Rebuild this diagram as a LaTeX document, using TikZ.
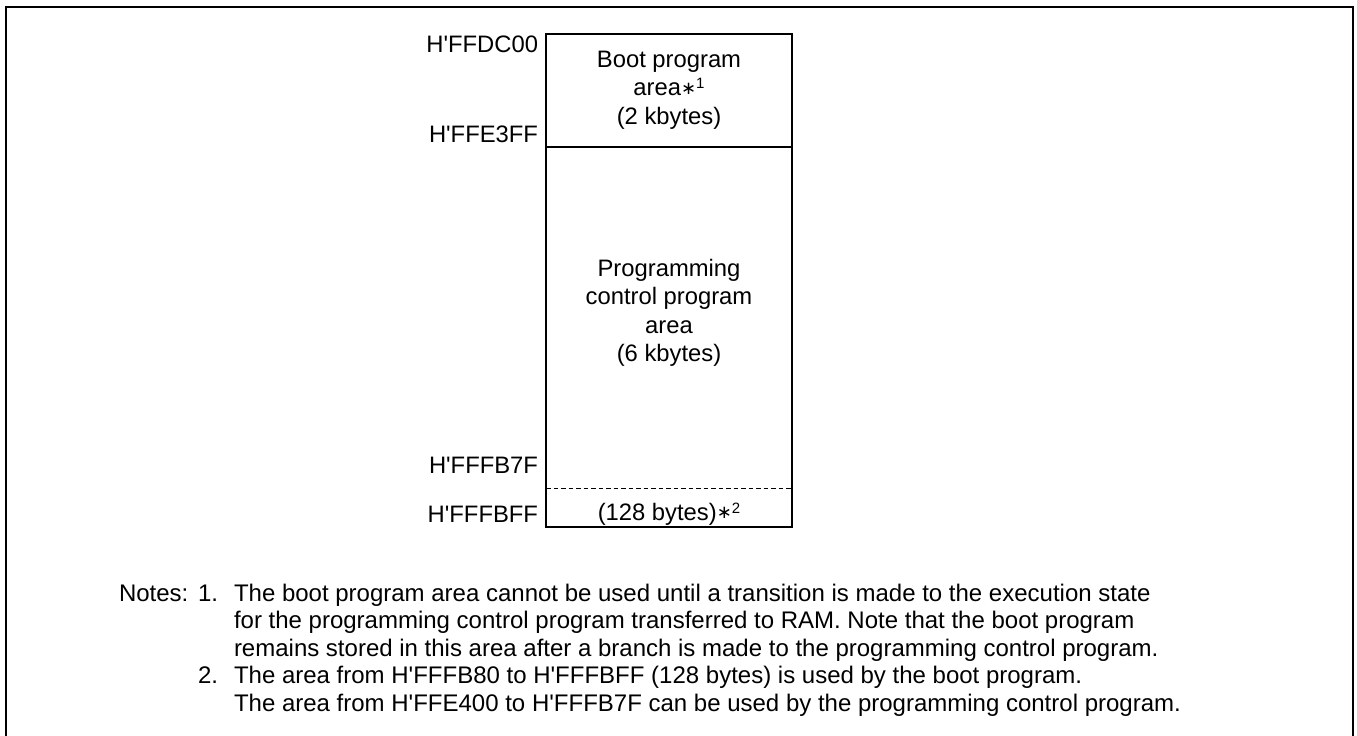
\documentclass[tikz,border=0pt]{standalone}
\usepackage{fontspec}
\setmainfont{Liberation Sans}
\newfontfamily\djvfont{DejaVu Sans}
\newcommand{\hq}{\textquotesingle}
\newcommand{\supnote}[1]{\raisebox{1.5pt}{\fontsize{18}{18}\selectfont\djvfont ∗}\raisebox{7pt}{\fontsize{15}{15}\selectfont #1}}
\begin{document}
\begin{tikzpicture}[x=1pt,y=-1pt,
  every node/.style={inner sep=0pt, outer sep=0pt},
  txt/.style={font=\fontsize{23.8}{28.5}\selectfont},
  notetxt/.style={font=\fontsize{24}{27.5}\selectfont, align=left},
  memblock/.style={draw, line width=1.2pt, minimum width=246pt, anchor=north},
  frameline/.style={line width=1.3pt},
  addr/.style={txt, anchor=base east}]
\useasboundingbox (0,0) rectangle (1357,736);
% outer frame (open at bottom)
\coordinate (fbl) at (6,736);
\coordinate (ftl) at (6,7);
\coordinate (ftr) at (1353,7);
\coordinate (fbr) at (1353,736);
\draw[frameline] (fbl) -- (ftl) -- (ftr) -- (fbr);
% memory map
\node[memblock, minimum height=113pt] (boot) at (669,34) {};
\node[memblock, minimum height=380pt] (prog) at (boot.south) {};
\node[minimum width=246pt, minimum height=39pt, anchor=south] (res) at (prog.south) {};
\draw[line width=1pt, dash pattern=on 4.5pt off 3pt] (res.north west) -- (res.north east);
% texts inside
\node[txt, align=center, anchor=north] (boottxt) at (669,51) {Boot program\\area\supnote{1}\\(2 kbytes)};
\node[txt, align=center, anchor=north] (progtxt) at (669,259) {Programming\\control program\\area\\(6 kbytes)};
\node[txt, anchor=base] (restxt) at (669,520) {(128 bytes)\supnote{2}};
% addresses
\node[addr] (a1) at (538,52) {H\hq FFDC00};
\node[addr] (a2) at (538,142) {H\hq FFE3FF};
\node[addr] (a3) at (538,473) {H\hq FFFB7F};
\node[addr] (a4) at (538,522) {H\hq FFFBFF};
% notes
\node[notetxt, anchor=base west] (nh) at (119,601) {Notes:};
\node[notetxt, anchor=base west] (n1) at (198,601) {1.};
\node[notetxt, anchor=base west] (n2) at (198,683.5) {2.};
\node[notetxt, anchor=north west] (n1t) at (234,584) {The boot program area cannot be used until a transition is made to the execution state\\for the programming control program transferred to RAM. Note that the boot program\\remains stored in this area after a branch is made to the programming control program.};
\node[notetxt, anchor=north west] (n2t) at (234,666.5) {The area from H\hq FFFB80 to H\hq FFFBFF (128 bytes) is used by the boot program.\\The area from H\hq FFE400 to H\hq FFFB7F can be used by the programming control program.};
\end{tikzpicture}
\end{document}
